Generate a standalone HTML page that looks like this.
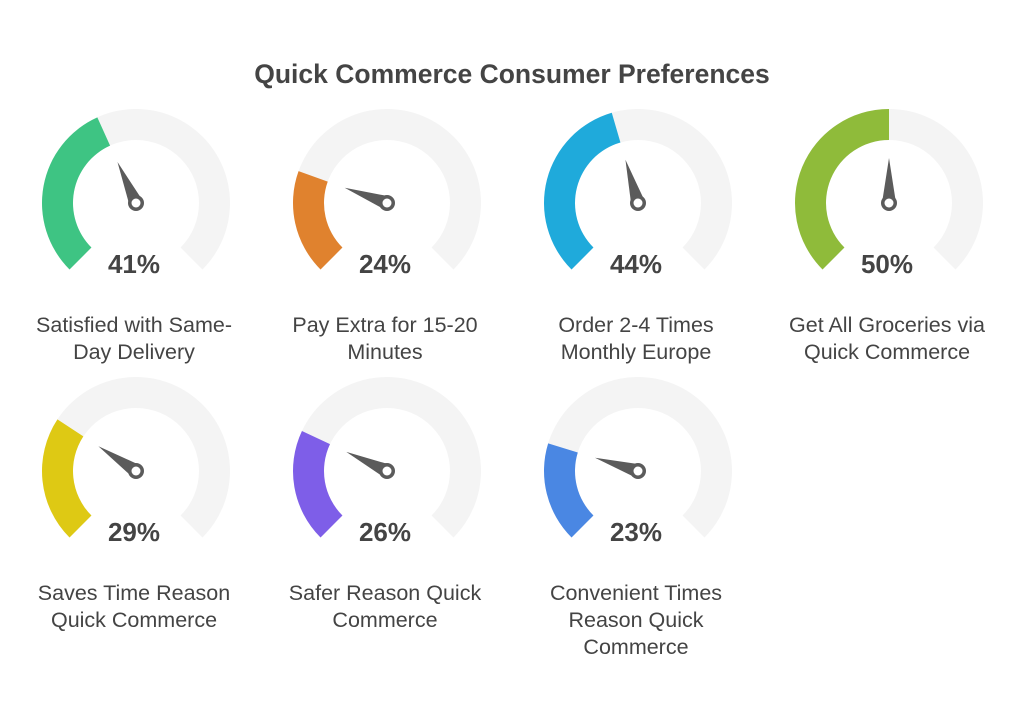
<!DOCTYPE html>
<html><head><meta charset="utf-8"><style>
body{margin:0;background:#fff;width:1024px;height:714px;overflow:hidden}
svg{display:block}
text{font-family:"Liberation Sans",sans-serif;fill:#444}
</style></head><body>
<svg id="s" width="1024" height="714" viewBox="0 0 1024 714">
<text x="512" y="83" text-anchor="middle" font-size="26.5" font-weight="bold">Quick Commerce Consumer Preferences</text>
</svg>
<script>
const s=document.getElementById('s');
const data=[
[136,203,41,'#3EC483',['Satisfied with Same-','Day Delivery']],
[387,203,24,'#E0822E',['Pay Extra for 15-20','Minutes']],
[638,203,44,'#1FAADB',['Order 2-4 Times','Monthly Europe']],
[889,203,50,'#8FBB3A',['Get All Groceries via','Quick Commerce']],
[136,471,29,'#DEC914',['Saves Time Reason','Quick Commerce']],
[387,471,26,'#7E5EE8',['Safer Reason Quick','Commerce']],
[638,471,23,'#4A87E3',['Convenient Times','Reason Quick','Commerce']]];
const R=94,r=63,rad=Math.PI/180;
function pt(cx,cy,rr,a){return [cx+rr*Math.cos(a*rad),cy-rr*Math.sin(a*rad)];}
function arc(cx,cy,a0,a1){
 const large=(a0-a1)>180?1:0;
 const p1=pt(cx,cy,R,a0),p2=pt(cx,cy,R,a1),p3=pt(cx,cy,r,a1),p4=pt(cx,cy,r,a0);
 return `M${p1}A${R},${R} 0 ${large} 1 ${p2}L${p3}A${r},${r} 0 ${large} 0 ${p4}Z`;
}
let h='';
for(const [cx,cy,v,c,lab] of data){
 const ae=225-v/100*270;
 h+=`<path d="${arc(cx,cy,225,-45)}" fill="#F4F4F4"/>`;
 h+=`<path d="${arc(cx,cy,225,ae)}" fill="${c}"/>`;
 const t=pt(cx,cy,45,ae),b1=pt(cx,cy,7,ae+90),b2=pt(cx,cy,7,ae-90);
 h+=`<polygon points="${t} ${b1} ${b2}" fill="#5b5b5b"/>`;
 h+=`<circle cx="${cx}" cy="${cy}" r="8" fill="#5b5b5b"/><circle cx="${cx}" cy="${cy}" r="4.5" fill="#fff"/>`;
 h+=`<text x="${cx-2}" y="${cy+70}" text-anchor="middle" font-size="26" font-weight="bold">${v}%</text>`;
 lab.forEach((l,i)=>{h+=`<text x="${cx-2}" y="${cy+129+i*27}" text-anchor="middle" font-size="21.5">${l}</text>`;});
}
s.insertAdjacentHTML('beforeend',h);
</script>
</body></html>
